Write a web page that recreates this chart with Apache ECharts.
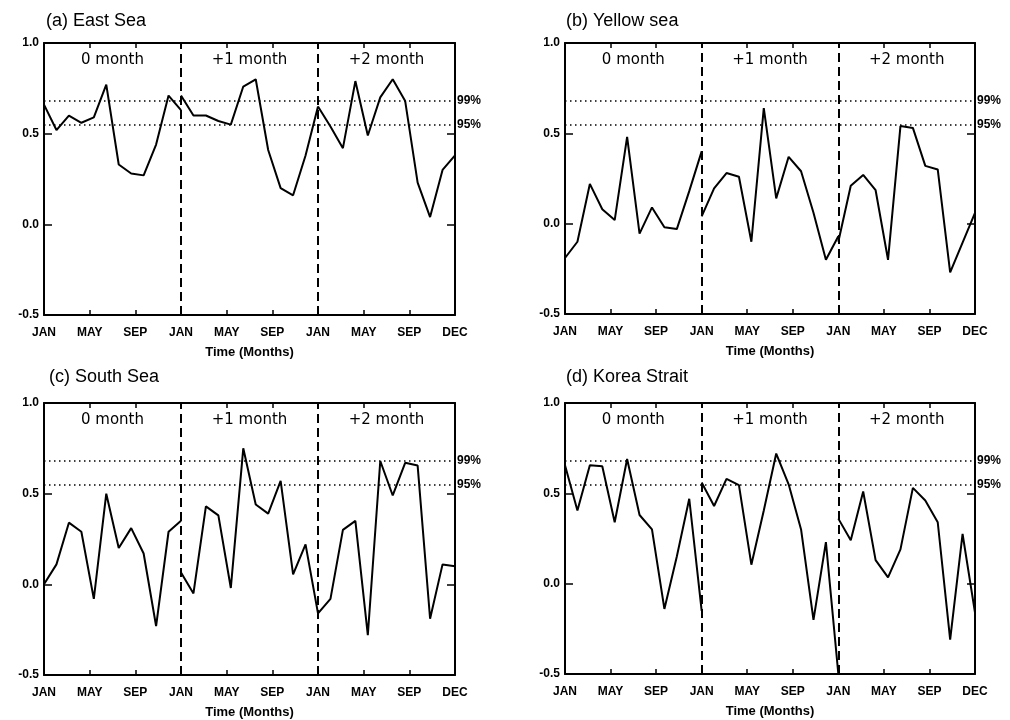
<!DOCTYPE html>
<html>
<head>
<meta charset="UTF-8">
<title>Lag correlation</title>
<style>
  html, body { margin: 0; padding: 0; background: #fff; }
  #chart { width: 1010px; height: 720px; }
</style>
<script src="https://cdn.jsdelivr.net/npm/echarts@6/dist/echarts.min.js"></script>
</head>
<body>
<div id="chart"></div>
<script>
// tick labels along the time axis (3 lag blocks, Jan..Dec each)
var monthTicks = ['JAN', 'MAY', 'SEP', 'JAN', 'MAY', 'SEP', 'JAN', 'MAY', 'SEP', 'DEC'];
var lagNames = ['0 month', '+1 month', '+2 month'];
var sig99 = 0.684;
var sig95 = 0.553;

// correlation values, JAN..DEC, for each lag
var eastSea0 = [0.66, 0.52, 0.60, 0.56, 0.59, 0.77, 0.33, 0.28, 0.27, 0.44, 0.71, 0.63];
var eastSea1 = [0.71, 0.60, 0.60, 0.57, 0.55, 0.76, 0.80, 0.41, 0.20, 0.16, 0.38, 0.65];
var eastSea2 = [0.65, 0.54, 0.42, 0.79, 0.49, 0.70, 0.80, 0.68, 0.23, 0.04, 0.30, 0.38];

var yellowSea0 = [-0.19, -0.10, 0.22, 0.08, 0.02, 0.48, -0.055, 0.09, -0.02, -0.03, 0.18, 0.40];
var yellowSea1 = [0.04, 0.195, 0.28, 0.26, -0.10, 0.64, 0.14, 0.37, 0.29, 0.06, -0.20, -0.07];
var yellowSea2 = [-0.10, 0.21, 0.27, 0.185, -0.20, 0.54, 0.53, 0.32, 0.30, -0.27, -0.105, 0.06];

var southSea0 = [0.00, 0.11, 0.34, 0.29, -0.08, 0.50, 0.20, 0.31, 0.17, -0.23, 0.29, 0.35];
var southSea1 = [0.065, -0.05, 0.43, 0.38, -0.02, 0.75, 0.44, 0.39, 0.57, 0.055, 0.22, -0.16];
var southSea2 = [-0.16, -0.08, 0.30, 0.35, -0.28, 0.68, 0.49, 0.67, 0.655, -0.19, 0.11, 0.10];

var koreaStrait0 = [0.655, 0.405, 0.655, 0.65, 0.34, 0.69, 0.38, 0.30, -0.14, 0.15, 0.47, -0.15];
var koreaStrait1 = [0.56, 0.43, 0.58, 0.545, 0.105, 0.405, 0.72, 0.55, 0.30, -0.20, 0.23, -0.50];
var koreaStrait2 = [0.36, 0.24, 0.51, 0.13, 0.035, 0.19, 0.53, 0.46, 0.34, -0.31, 0.275, -0.16];

var panels = [
    { title: '(a) East Sea', lags: [eastSea0, eastSea1, eastSea2] },
    { title: '(b) Yellow sea', lags: [yellowSea0, yellowSea1, yellowSea2] },
    { title: '(c) South Sea', lags: [southSea0, southSea1, southSea2] },
    { title: '(d) Korea Strait', lags: [koreaStrait0, koreaStrait1, koreaStrait2] }
];

var grids = [
    { left: 44, top: 43, width: 411, height: 272 },
    { left: 565, top: 43, width: 410, height: 271 },
    { left: 44, top: 403, width: 411, height: 272 },
    { left: 565, top: 403, width: 410, height: 271 }
];
var titlePos = [[41, 7], [561, 7], [44, 363], [561, 363]];

var FONT = 'Liberation Sans';
var BLOCK = 33; // x units per lag block (12 points -> 11 steps of 3)

var option = {
    animation: false,
    backgroundColor: '#fff',
    title: [],
    grid: [],
    xAxis: [],
    yAxis: [],
    series: []
};

panels.forEach(function (p, g) {
    option.grid.push(grids[g]);
    option.title.push({
        text: p.title,
        left: titlePos[g][0],
        top: titlePos[g][1],
        textStyle: { fontFamily: FONT, fontSize: 18, fontWeight: 'normal', color: '#000' }
    });

    // bottom + top x axes
    ['bottom', 'top'].forEach(function (pos) {
        option.xAxis.push({
            gridIndex: g,
            type: 'value',
            position: pos,
            min: 0,
            max: 3 * BLOCK,
            interval: BLOCK / 3,
            axisLine: { show: true, onZero: false, lineStyle: { color: '#000', width: 2 } },
            axisTick: { show: true, inside: true, length: 5, lineStyle: { color: '#000', width: 1.5 } },
            axisLabel: {
                show: pos === 'bottom',
                margin: 12,
                color: '#000',
                fontFamily: FONT,
                fontWeight: 'bold',
                fontSize: 12,
                formatter: function (v) { return monthTicks[Math.round(v / (BLOCK / 3))]; }
            },
            splitLine: { show: false },
            name: pos === 'bottom' ? 'Time (Months)' : '',
            nameLocation: 'middle',
            nameGap: 31,
            nameTextStyle: { color: '#000', fontFamily: FONT, fontWeight: 'bold', fontSize: 13 }
        });
    });

    // left + right y axes
    ['left', 'right'].forEach(function (pos) {
        option.yAxis.push({
            gridIndex: g,
            type: 'value',
            position: pos,
            min: -0.5,
            max: 1.0,
            interval: 0.5,
            axisLine: { show: true, onZero: false, lineStyle: { color: '#000', width: 2 } },
            axisTick: { show: true, inside: true, length: 8, lineStyle: { color: '#000', width: 1.5 } },
            axisLabel: {
                show: pos === 'left',
                margin: 5,
                color: '#000',
                fontFamily: FONT,
                fontWeight: 'bold',
                fontSize: 12,
                formatter: function (v) { return v.toFixed(1); }
            },
            splitLine: { show: false }
        });
    });

    p.lags.forEach(function (vals, b) {
        var s = {
            type: 'line',
            xAxisIndex: 2 * g,
            yAxisIndex: 2 * g,
            data: vals.map(function (v, i) { return [BLOCK * b + 3 * i, v]; }),
            symbol: 'none',
            lineStyle: { color: '#000', width: 2 },
            z: 3
        };
        if (b === 0) {
            var sigLabel = function (txt) {
                return {
                    show: true, position: 'end', formatter: txt, distance: 2,
                    color: '#000', fontFamily: FONT, fontWeight: 'bold', fontSize: 12,
                    padding: [0, 0, 8, 0]
                };
            };
            s.markLine = {
                silent: true,
                symbol: ['none', 'none'],
                data: [
                    { xAxis: BLOCK, lineStyle: { color: '#000', type: [9, 5], width: 2 }, label: { show: false } },
                    { xAxis: 2 * BLOCK, lineStyle: { color: '#000', type: [9, 5], width: 2 }, label: { show: false } },
                    { yAxis: sig99, lineStyle: { color: '#000', type: [1.5, 3.5], width: 1.5 }, label: sigLabel('99%') },
                    { yAxis: sig95, lineStyle: { color: '#000', type: [1.5, 3.5], width: 1.5 }, label: sigLabel('95%') }
                ]
            };
            s.markPoint = {
                silent: true,
                symbol: 'rect',
                symbolSize: 1,
                itemStyle: { color: 'rgba(0,0,0,0)' },
                label: {
                    show: true, position: 'inside', formatter: '{b}',
                    color: '#000', fontFamily: 'DejaVu Sans', fontSize: 15
                },
                data: lagNames.map(function (n, k) {
                    return { name: n, coord: [BLOCK * k + BLOCK / 2, 0.906] };
                })
            };
        }
        option.series.push(s);
    });
});

var chart = echarts.init(document.getElementById('chart'));
chart.setOption(option);
</script>
</body>
</html>
